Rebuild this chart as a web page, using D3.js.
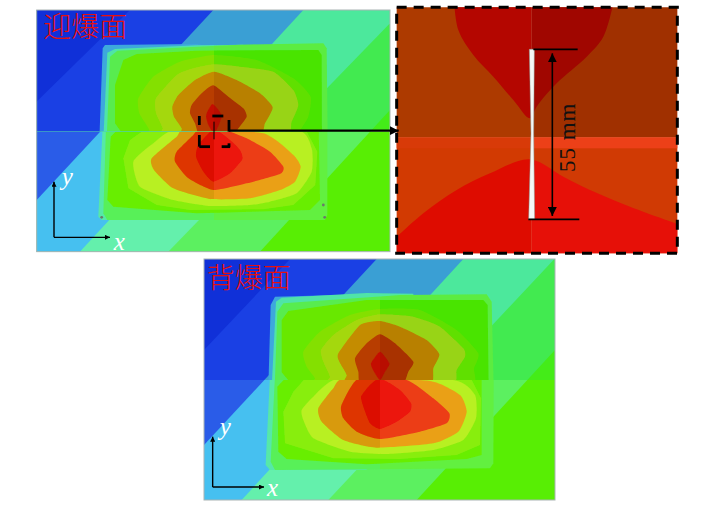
<!DOCTYPE html>
<html><head><meta charset="utf-8">
<script src="https://cdn.jsdelivr.net/npm/d3@7"></script>
<style>html,body{margin:0;background:#fff}svg{display:block}</style></head>
<body><div id="c"></div>
<script>
// Contour values in "read units" (3 units = 1 screen pixel of the crop).
const bandUpperColors = ['#1030d8','#1a40e4','#3a9fd4','#4ce89c','#42ea50','#44ec18'];
const bandLowerColors = ['#2a5ce8','#2a5ce8','#46c0f0','#64f0ac','#5cf060','#58ee04'];
const upperColors = [['#3ea8dc','#3ea8dc'],['#4fe4a8','#50e8a0'],['#58ec50','#5cec40'],['#68e800','#48e404'],['#84e000','#60e000'],['#a4d810','#98d414'],['#c48c00','#b88000'],['#b83c04','#a83000'],['#c41000','#b80c00']];
const lowerColors = [['#56e8a8','#66f064'],['#58f058','#62f040'],['#68ee00','#68ee00'],['#88ee10','#88ee10'],['#b8f020','#b8f020'],['#d89a08','#eaa014'],['#de3606','#ec3c14'],['#dc0c06','#ec1410']];
const upperStraightRings = 4;
const lowerStraightRings = 4;

const topBandEdges = [[[20,305],[300,30]],[[20,600],[550,30]],[[150,755],[820,30]],[[415,755],[1080,70]],[[690,755],[1080,330]]];
const topUpperRings = [
 [[218,145],[225,135],[500,132],[560,145],[500,420],[208,420]],
 [[232,158],[255,147],[500,136],[640,134],[640,420],[220,420]],
 [[240,170],[262,152],[630,134],[880,130],[890,145],[893,420],[230,420]],
 [[255,255],[280,180],[320,162],[500,152],[865,150],[875,165],[876,420],[272,420],[272,394],[255,370]],
 [[552,165],[680,180],[790,235],[842,290],[835,350],[805,400],[805,420],[355,420],[358,390],[328,340],[325,295],[370,230],[450,185]],
 [[552,193],[630,200],[730,215],[790,270],[805,315],[785,365],[755,420],[395,420],[398,385],[378,340],[378,295],[440,225],[490,205]],
 [[552,215],[620,240],[690,280],[728,322],[705,370],[680,420],[460,420],[455,385],[432,350],[427,320],[445,285],[495,240]],
 [[550,256],[595,290],[640,325],[650,350],[625,385],[600,420],[515,420],[495,370],[480,340],[485,315],[515,280]],
 [[548,312],[575,345],[565,378],[552,400],[535,375],[528,350],[532,335]]];
const topLowerRings = [
 [[218,380],[500,380],[500,660],[215,660],[205,650]],
 [[228,380],[892,380],[892,645],[885,660],[232,660],[220,640]],
 [[272,380],[866,380],[870,600],[840,630],[500,640],[250,620],[232,600],[242,410]],
 [[350,385],[825,385],[862,455],[856,555],[790,615],[700,628],[480,630],[380,615],[295,565],[280,475],[300,420]],
 [[450,385],[800,390],[845,445],[845,515],[800,580],[720,605],[660,615],[540,618],[430,600],[330,560],[310,485],[370,430]],
 [[470,385],[700,400],[790,465],[812,500],[795,545],[750,570],[660,595],[540,597],[430,565],[372,510],[365,475],[440,410]],
 [[510,385],[590,392],[650,415],[720,455],[760,500],[750,522],[650,550],[550,570],[475,535],[435,485],[440,455],[490,405]],
 [[552,388],[600,420],[630,450],[637,478],[600,520],[550,545],[520,515],[498,470],[505,435]]];

const botBandEdges = [[[12,285],[270,12]],[[12,570],[530,12]],[[125,735],[790,12]],[[385,735],[1065,10]],[[650,735],[1065,285]]];
const botUpperRings = [
 [[212,150],[225,125],[500,118],[560,130],[500,400],[205,400]],
 [[228,140],[245,128],[500,114],[640,116],[640,400],[215,400]],
 [[232,170],[250,145],[600,120],[860,118],[875,140],[881,400],[224,400]],
 [[245,195],[265,168],[500,135],[850,135],[863,150],[866,400],[265,400],[265,376],[245,352]],
 [[540,162],[660,165],[770,225],[835,295],[822,340],[800,400],[345,400],[345,370],[320,335],[310,290],[360,230],[450,180]],
 [[540,178],[640,185],[720,215],[790,280],[795,305],[770,345],[745,400],[385,400],[390,365],[370,320],[363,285],[400,240],[470,195]],
 [[540,198],[600,215],[680,255],[718,298],[700,340],[683,400],[435,400],[440,360],[418,320],[415,295],[480,210]],
 [[540,238],[585,265],[640,320],[625,350],[600,400],[485,400],[475,350],[465,310],[500,265]],
 [[540,290],[568,325],[555,350],[540,375],[522,350],[513,325]]];
const botLowerRings = [
 [[210,360],[500,360],[500,645],[210,645],[197,630]],
 [[225,360],[881,360],[880,625],[870,640],[225,645],[212,620]],
 [[265,360],[845,360],[845,600],[800,612],[500,628],[260,612],[235,590],[232,395]],
 [[320,365],[810,365],[843,430],[840,570],[770,600],[600,612],[400,610],[255,565],[250,470],[280,410]],
 [[420,370],[760,375],[825,420],[828,490],[790,555],[700,585],[560,597],[450,590],[340,550],[310,495],[305,465],[340,425]],
 [[435,370],[690,378],[780,420],[800,470],[775,530],[700,565],[530,578],[430,555],[365,500],[355,460],[400,400]],
 [[485,365],[620,375],[700,430],[748,475],[740,505],[660,530],[540,552],[470,530],[430,490],[423,455],[450,400]],
 [[540,370],[600,405],[633,445],[630,470],[590,500],[540,522],[510,505],[490,455],[483,425],[505,395]]];

const topDots = [[215,652],[884,652],[880,615]];
const markerDashes = [[547,348,580,348],[508,348,508,375],[508,405,508,440],[508,440,540,440],[575,440,600,440],[597,430,597,442],[597,360,597,395]];

// Detail panel
const detailUpperColors = ['#ad3a00','#a03000'];
const detailLowerColors = ['#d23a02','#d03a04'];
const detailSeamBand = ['#d83a08','#ec4018'];
const detailSpadeColors = ['#b40600','#a00600'];
const detailRedColors = ['#de0c00','#e61008'];
const detailSpade = [[192,0],[205,90],[250,165],[310,230],[370,300],[420,355],[440,320],[500,250],[590,170],[640,110],[672,0]];
const detailRed = [[0,730],[100,640],[200,570],[300,520],[420,478],[520,530],[600,570],[720,620],[880,678]];
const crack = [[418,148],[433,148],[431,400],[434,658],[416,658],[423,400]];

const W=709,H=508;
const svg=d3.select('#c').append('svg').attr('width',W).attr('height',H);
const defs=svg.append('defs');
defs.append('filter').attr('id','soft').attr('x','-5%').attr('y','-5%').attr('width','110%').attr('height','110%')
  .append('feGaussianBlur').attr('stdDeviation',0.7);
function marker(id,size){
  const m=defs.append('marker').attr('id',id).attr('viewBox','0 0 10 10').attr('refX',10).attr('refY',5)
    .attr('markerWidth',size).attr('markerHeight',size).attr('markerUnits','userSpaceOnUse').attr('orient','auto-start-reverse');
  m.append('path').attr('d','M0,0L10,5L0,10Z').attr('fill','#000');
}
marker('a5',5);marker('a7',7);marker('a9',9);

function clip(id,x0,y0,x1,y1){
  defs.append('clipPath').attr('id',id).append('rect').attr('x',x0).attr('y',y0).attr('width',x1-x0).attr('height',y1-y0);
  return `url(#${id})`;
}

function drawPanel(o){
  const sx=d3.scaleLinear().domain([0,o.domainW]).range([o.ox,o.ox+o.domainW/3]);
  const sy=d3.scaleLinear().domain([0,o.domainH]).range([o.oy,o.oy+o.domainH/3]);
  const g=svg.append('g');
  const L=sx(o.x0),R=sx(o.x1),T=sy(o.y0),B=sy(o.y1),S=sy(o.seam),C=sx(o.cx);
  const poly=d3.line().x(d=>sx(d[0])).y(d=>sy(d[1]));
  const straight=d3.line().x(d=>sx(d[0])).y(d=>sy(d[1])).curve(d3.curveLinearClosed);
  const smooth=d3.line().x(d=>sx(d[0])).y(d=>sy(d[1])).curve(d3.curveCardinalClosed.tension(0.45));
  const halves=[['u',T,S,o.upper,o.upperC,bandUpperColors,upperStraightRings],['l',S,B,o.lower,o.lowerC,bandLowerColors,lowerStraightRings]];
  halves.forEach(([k,a,b,rings,cols,bandCols,nStraight])=>{
    const h=g.append('g').attr('clip-path',clip(o.id+k,L,a,R,b));
    h.append('rect').attr('x',L).attr('y',a).attr('width',R-L).attr('height',b-a).attr('fill',bandCols[5]);
    o.edges.slice().reverse().forEach((e,i)=>{
      const [p,q]=e;
      const pe=[p[0]+(p[0]-q[0])*4,p[1]+(p[1]-q[1])*4], qe=[q[0]+(q[0]-p[0])*4,q[1]+(q[1]-p[1])*4];
      h.append('path').attr('d',poly([pe,qe,[-6000,-6000]])+'Z').attr('fill',bandCols[4-i]);
    });
    const sides=[[0,L,C],[1,C,R]];
    sides.forEach(([si,x0,x1])=>{
      const sg=h.append('g').attr('clip-path',clip(o.id+k+si,x0,a,x1,b)).append('g').attr('filter','url(#soft)');
      rings.forEach((r,i)=>{
        sg.append('path').attr('d',(i<nStraight?straight:smooth)(r)).attr('fill',cols[i][si]);
      });
    });
  });
  g.append('rect').attr('x',L).attr('y',T).attr('width',R-L).attr('height',B-T).attr('fill','none').attr('stroke','#a9b4b4').attr('stroke-width',1);
  (o.dots||[]).forEach(d=>g.append('circle').attr('cx',sx(d[0])).attr('cy',sy(d[1])).attr('r',1.4).attr('fill','#6a7a6a'));
  // axes
  const ax=g.append('g').attr('stroke','#000').attr('stroke-width',1.4).attr('fill','none');
  ax.append('line').attr('x1',sx(o.axis[0])).attr('y1',sy(o.axis[1])).attr('x2',sx(o.axis[0])).attr('y2',sy(o.axis[2])).attr('marker-end','url(#a5)');
  ax.append('line').attr('x1',sx(o.axis[0])).attr('y1',sy(o.axis[1])).attr('x2',sx(o.axis[3])).attr('y2',sy(o.axis[1])).attr('marker-end','url(#a5)');
  const it=(t,p)=>g.append('text').text(t).attr('x',sx(p[0])).attr('y',sy(p[1])).attr('fill','#fff')
    .attr('font-family','"Liberation Serif",serif').attr('font-style','italic').attr('font-size',25).attr('text-anchor','middle');
  it('x',o.xl);it('y',o.yl);
  g.append('text').text(o.title).attr('x',sx(o.tl[0])).attr('y',sy(o.tl[1])).attr('fill','#e8100c')
    .attr('font-family','"Noto Sans CJK SC",sans-serif').attr('font-weight',300).attr('font-size',28);
  return {sx,sy};
}

const top_=drawPanel({id:'t',ox:30,oy:0,domainW:1110,domainH:780,x0:20,x1:1080,y0:30,y1:755,seam:395,cx:552,
  edges:topBandEdges,upper:topUpperRings,lower:topLowerRings,upperC:upperColors,lowerC:lowerColors,dots:topDots,
  axis:[72,712,545,240],xl:[268,750],yl:[112,555],title:'迎爆面',tl:[40,110]});
drawPanel({id:'b',ox:200,oy:255,domainW:1080,domainH:750,x0:12,x1:1065,y0:12,y1:735,seam:375,cx:540,
  edges:botBandEdges,upper:botUpperRings,lower:botLowerRings,upperC:upperColors,lowerC:lowerColors,
  axis:[38,696,545,192],xl:[218,722],yl:[76,540],title:'背爆面',tl:[20,100]});

// Marker box on top panel
const tx=top_.sx,ty=top_.sy;
markerDashes.forEach(d=>svg.append('line').attr('x1',tx(d[0])).attr('y1',ty(d[1])).attr('x2',tx(d[2])).attr('y2',ty(d[3])).attr('stroke','#000').attr('stroke-width',2.8));
svg.append('line').attr('x1',tx(552)).attr('x2',tx(552)).attr('y1',ty(365)).attr('y2',ty(418)).attr('stroke','#000').attr('stroke-width',1);

// Detail panel
const dx=d3.scaleLinear().domain([0,900]).range([390,690]);
const dy=d3.scaleLinear().domain([0,780]).range([0,260]);
const dl=d3.line().x(d=>dx(d[0])).y(d=>dy(d[1]));
const dc=d3.line().x(d=>dx(d[0])).y(d=>dy(d[1])).curve(d3.curveCatmullRom.alpha(0.5));
const dg=svg.append('g').attr('clip-path',clip('dp',dx(20),dy(22),dx(862),dy(760)));
const mid=425,seamD=412;
[[0,0,mid],[1,mid,900]].forEach(([i,a,b])=>{
  const s=dg.append('g').attr('clip-path',clip('ds'+i,dx(a),dy(0),dx(b),dy(780)));
  s.append('rect').attr('x',dx(a)).attr('y',dy(0)).attr('width',dx(b)-dx(a)).attr('height',dy(seamD)).attr('fill',detailUpperColors[i]);
  s.append('rect').attr('x',dx(a)).attr('y',dy(seamD)).attr('width',dx(b)-dx(a)).attr('height',dy(780)-dy(seamD)).attr('fill',detailLowerColors[i]);
  s.append('rect').attr('x',dx(a)).attr('y',dy(seamD)).attr('width',dx(b)-dx(a)).attr('height',dy(445)-dy(seamD)).attr('fill',detailSeamBand[i]);
  s.append('path').attr('d',dc(detailSpade)).attr('fill',detailSpadeColors[i]);
  s.append('path').attr('d',dc(detailRed)+'L'+dx(880)+','+dy(780)+'L'+dx(0)+','+dy(780)+'Z').attr('fill',detailRedColors[i]);
});
dg.append('path').attr('d',dl(crack)+'Z').attr('fill','#f4f8f6').attr('stroke','#8a9a94').attr('stroke-width',0.5);
svg.append('rect').attr('x',dx(20)).attr('y',dy(22)).attr('width',dx(862)-dx(20)).attr('height',dy(760)-dy(22))
  .attr('fill','none').attr('stroke','#000').attr('stroke-width',3).attr('stroke-dasharray','10 7');
svg.append('line').attr('x1',dx(430)).attr('x2',dx(563)).attr('y1',dy(148)).attr('y2',dy(148)).attr('stroke','#000').attr('stroke-width',1.6);
svg.append('line').attr('x1',dx(415)).attr('x2',dx(568)).attr('y1',dy(658)).attr('y2',dy(658)).attr('stroke','#000').attr('stroke-width',1.6);
svg.append('line').attr('x1',dx(487)).attr('x2',dx(487)).attr('y1',dy(160)).attr('y2',dy(648)).attr('stroke','#000').attr('stroke-width',1.6)
  .attr('marker-start','url(#a9)').attr('marker-end','url(#a9)');
svg.append('text').text('55 mm').attr('transform',`translate(${dx(531)},${dy(412)}) rotate(-90) translate(0,8)`).attr('text-anchor','middle')
  .attr('font-family','"Liberation Serif",serif').attr('font-size',23).attr('letter-spacing',1).attr('fill','#111');

// Leader arrow
svg.append('line').attr('x1',tx(597)).attr('x2',tx(1106)).attr('y1',ty(392)).attr('y2',ty(392)).attr('stroke','#000').attr('stroke-width',2.4).attr('marker-end','url(#a9)');
</script></body></html>
